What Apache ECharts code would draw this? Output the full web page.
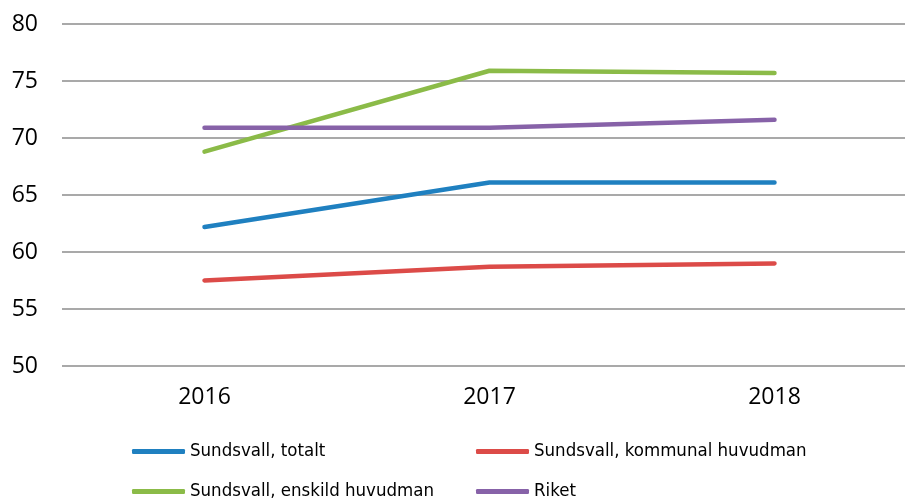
<!DOCTYPE html>
<html>
<head>
<meta charset="utf-8">
<script src="https://cdn.jsdelivr.net/npm/echarts@6/dist/echarts.min.js"></script>
<style>
  html, body { margin: 0; padding: 0; background: #fff; }
  #chart { width: 905px; height: 500px; }
</style>
</head>
<body>
<div id="chart"></div>
<script>
  // years and values
  var years = ['2016', '2017', '2018'];
  var totalt = [62.2, 66.1, 66.1];
  var kommunal = [57.5, 58.7, 59.0];
  var enskild = [68.8, 75.9, 75.7];
  var riket = [70.9, 70.9, 71.6];

  var names = ['Sundsvall, totalt', 'Sundsvall, kommunal huvudman', 'Sundsvall, enskild huvudman', 'Riket'];
  var colors = ['#1f80c0', '#dc4b48', '#8bbb48', '#8762a8'];

  var legendFont = { fontFamily: '"Liberation Sans Narrow", "DejaVu Sans Condensed", sans-serif', fontSize: 18.5, color: '#000' };
  var legendPos = [[127, 437], [471, 437], [127, 477], [471, 477]];

  function makeLegend(i) {
    return {
      data: [names[i]],
      left: legendPos[i][0],
      top: legendPos[i][1],
      icon: 'roundRect',
      itemWidth: 53,
      itemHeight: 5,
      itemGap: 4,
      textStyle: legendFont,
      selectedMode: false
    };
  }

  var seriesData = [totalt, kommunal, enskild, riket];

  var option = {
    animation: false,
    color: colors,
    legend: [makeLegend(0), makeLegend(1), makeLegend(2), makeLegend(3)],
    // plot runs past the right edge of the picture, as in the reference
    grid: { left: 62, right: -12, top: 24, bottom: 134, outerBoundsMode: 'none' },
    xAxis: {
      type: 'category',
      data: years,
      boundaryGap: true,
      axisLine: { show: false },
      axisTick: { show: false },
      axisLabel: { margin: 20, fontSize: 23, color: '#000', fontFamily: '"Open Sans", sans-serif' }
    },
    yAxis: {
      type: 'value',
      min: 50,
      max: 80,
      interval: 5,
      axisLine: { show: false },
      axisTick: { show: false },
      axisLabel: { margin: 24, fontSize: 23, color: '#000', fontFamily: '"Open Sans", sans-serif' },
      splitLine: { lineStyle: { color: '#8c8c8c', width: 1.5 } }
    },
    series: seriesData.map(function (d, i) {
      return {
        name: names[i],
        type: 'line',
        data: d,
        symbol: 'none',
        lineStyle: { width: 4.5, color: colors[i], cap: 'round' },
        itemStyle: { color: colors[i] }
      };
    })
  };

  var myChart = echarts.init(document.getElementById('chart'));
  myChart.setOption(option);
</script>
</body>
</html>
